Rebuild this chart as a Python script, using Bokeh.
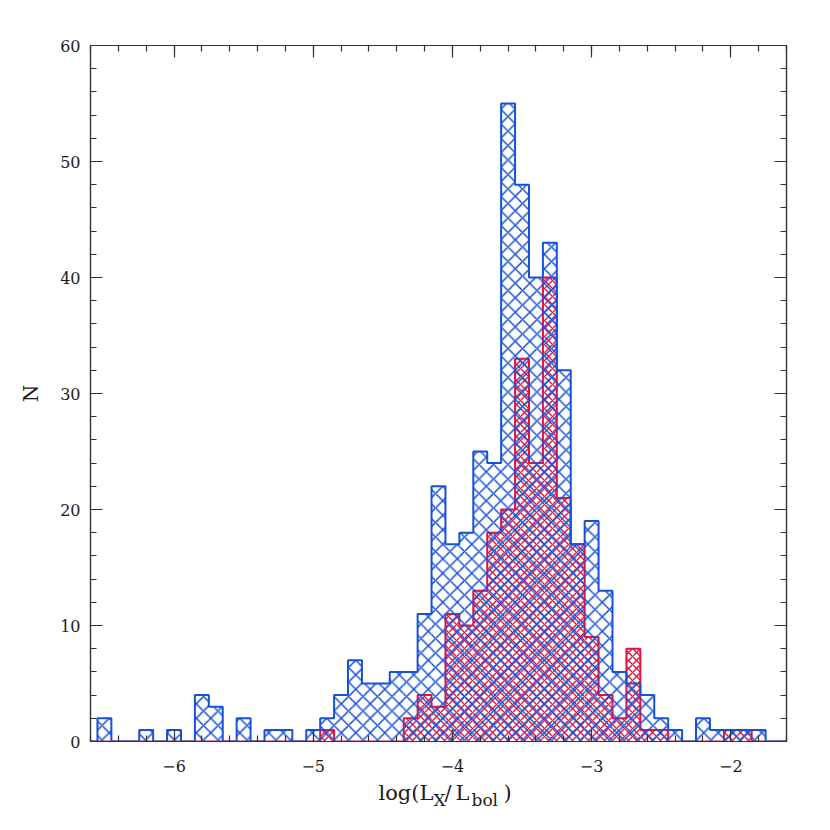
from bokeh.plotting import figure
from bokeh.models import Range1d, FixedTicker, LinearAxis
from bokeh.layouts import column
from bokeh.core.properties import value
from bokeh.embed import file_html
from bokeh.resources import INLINE

# ---- data ----
bin_centers = [-6.5, -6.4, -6.3, -6.2, -6.1, -6.0, -5.9, -5.8, -5.7, -5.6,
               -5.5, -5.4, -5.3, -5.2, -5.1, -5.0, -4.9, -4.8, -4.7, -4.6,
               -4.5, -4.4, -4.3, -4.2, -4.1, -4.0, -3.9, -3.8, -3.7, -3.6,
               -3.5, -3.4, -3.3, -3.2, -3.1, -3.0, -2.9, -2.8, -2.7, -2.6,
               -2.5, -2.4, -2.3, -2.2, -2.1, -2.0, -1.9, -1.8]
blue_counts = [2, 0, 0, 1, 0, 1, 0, 4, 3, 0,
               2, 0, 1, 1, 0, 1, 2, 4, 7, 5,
               5, 6, 6, 11, 22, 17, 18, 25, 24, 55,
               48, 40, 43, 32, 17, 19, 13, 6, 5, 4,
               2, 1, 0, 2, 1, 1, 1, 1]
red_counts = [0, 0, 0, 0, 0, 0, 0, 0, 0, 0,
              0, 0, 0, 0, 0, 0, 1, 0, 0, 0,
              0, 0, 2, 4, 3, 11, 10, 13, 18, 20,
              33, 24, 40, 21, 17, 9, 4, 2, 8, 1,
              1, 0, 0, 0, 0, 1, 1, 0]
bin_width = 0.1
x_major_ticks = [-6, -5, -4, -3, -2]
x_tick_labels = ["\u22126", "\u22125", "\u22124", "\u22123", "\u22122"]
y_major_ticks = [0, 10, 20, 30, 40, 50, 60]

XMIN, XMAX = -6.6, -1.6
YMIN, YMAX = 0, 60

BLUE = "#1652d6"
RED = "#e0133f"
AXC = "#333333"
TXT = "#1a1a1a"
FONT = "DejaVu Serif"

FRAME = 696
LEFT, TOP, RIGHT, BOTTOM = 90, 45, 40, 10

p = figure(frame_width=FRAME, frame_height=FRAME,
           x_range=Range1d(XMIN, XMAX), y_range=Range1d(YMIN, YMAX),
           output_backend="svg", toolbar_location=None,
           min_border_left=LEFT, min_border_top=TOP, min_border_right=RIGHT,
           min_border_bottom=BOTTOM,
           background_fill_color="white", border_fill_color="white")
p.grid.visible = False
p.outline_line_color = AXC
p.outline_line_width = 1.2

lefts = [c - bin_width / 2 for c in bin_centers]
rights = [c + bin_width / 2 for c in bin_centers]


def outline(counts):
    xs = [XMIN, lefts[0]]
    ys = [0, 0]
    for l, r, c in zip(lefts, rights, counts):
        xs += [l, r]
        ys += [c, c]
    xs += [rights[-1], XMAX]
    ys += [0, 0]
    return xs, ys


# red first, blue drawn over it (as in the reference)
p.quad(left=lefts, right=rights, bottom=0, top=red_counts,
       fill_alpha=0, line_color=None,
       hatch_pattern="diagonal_cross", hatch_color=RED, hatch_scale=8, hatch_weight=1.3)
rx, ry = outline(red_counts)
p.line(rx, ry, line_color=RED, line_width=2)
p.quad(left=lefts, right=rights, bottom=0, top=blue_counts,
       fill_alpha=0, line_color=None,
       hatch_pattern="diagonal_cross", hatch_color=BLUE, hatch_scale=14.5, hatch_weight=1.5)
bx, by = outline(blue_counts)
p.line(bx, by, line_color=BLUE, line_width=2)

x_minor = [round(XMIN + 0.2 * i, 1) for i in range(int(round((XMAX - XMIN) / 0.2)) + 1)]
y_minor = list(range(0, 61, 2))


def style(ax, labels=True):
    ax.axis_line_color = AXC
    ax.axis_line_width = 1.2
    ax.major_tick_in = 12
    ax.major_tick_out = 0
    ax.minor_tick_in = 6
    ax.minor_tick_out = 0
    ax.major_tick_line_color = AXC
    ax.minor_tick_line_color = AXC
    ax.major_tick_line_width = 1.2
    ax.minor_tick_line_width = 1.2
    ax.major_label_text_font = FONT
    ax.major_label_text_font_size = "16px"
    ax.major_label_text_color = TXT if labels else None


xa = p.xaxis[0]
xa.ticker = FixedTicker(ticks=x_major_ticks, minor_ticks=x_minor)
style(xa, labels=False)
xa.major_label_text_font_size = "0px"
xa.major_label_standoff = 0

ya = p.yaxis[0]
ya.ticker = FixedTicker(ticks=y_major_ticks, minor_ticks=y_minor)
style(ya)
ya.major_label_standoff = 10
ya.axis_label = "N"
ya.axis_label_text_font = FONT
ya.axis_label_text_font_size = "20px"
ya.axis_label_text_font_style = "normal"
ya.axis_label_standoff = 14
ya.axis_label_text_color = TXT

top = LinearAxis(ticker=FixedTicker(ticks=x_major_ticks, minor_ticks=x_minor))
style(top, labels=False)
p.add_layout(top, "above")
right = LinearAxis(ticker=FixedTicker(ticks=y_major_ticks, minor_ticks=y_minor))
style(right, labels=False)
p.add_layout(right, "right")

# ---- x tick labels and x-axis title (with subscripts), in a strip under the plot ----
STRIP = 75
lf = figure(frame_width=FRAME, frame_height=STRIP, x_range=p.x_range,
            y_range=Range1d(0, STRIP), x_axis_type=None, y_axis_type=None,
            output_backend="svg", toolbar_location=None,
            min_border_left=LEFT, min_border_right=RIGHT, min_border_top=0, min_border_bottom=0,
            outline_line_color=None, background_fill_color="white", border_fill_color="white")
lf.grid.visible = False

PXU = FRAME / (XMAX - XMIN)
strip_top = TOP + FRAME + BOTTOM


def dx(px):
    return XMIN + (px - LEFT) / PXU


def sy(py):
    return STRIP - (py - strip_top)


lf.text(x=x_major_ticks, y=[sy(765)] * len(x_major_ticks), text=x_tick_labels,
        text_font=value(FONT), text_font_size=value("16px"),
        text_align="center", text_baseline="alphabetic", text_color=TXT)

main_parts = [("log(L", 378, 792), ("/", 444, 792), ("L", 455, 792), (")", 503, 792)]
sub_parts = [("X", 433, 799), ("bol", 471, 799)]
lf.text(x=[dx(a[1]) for a in main_parts], y=[sy(a[2]) for a in main_parts],
        text=[a[0] for a in main_parts], text_font=value(FONT), text_font_size=value("21px"),
        text_align="left", text_baseline="alphabetic", text_color=TXT)
lf.text(x=[dx(a[1]) for a in sub_parts], y=[sy(a[2]) for a in sub_parts],
        text=[a[0] for a in sub_parts], text_font=value(FONT), text_font_size=value("17px"),
        text_align="left", text_baseline="alphabetic", text_color=TXT)

layout = column(p, lf, spacing=0)
open("out.html", "w").write(file_html(layout, INLINE))
